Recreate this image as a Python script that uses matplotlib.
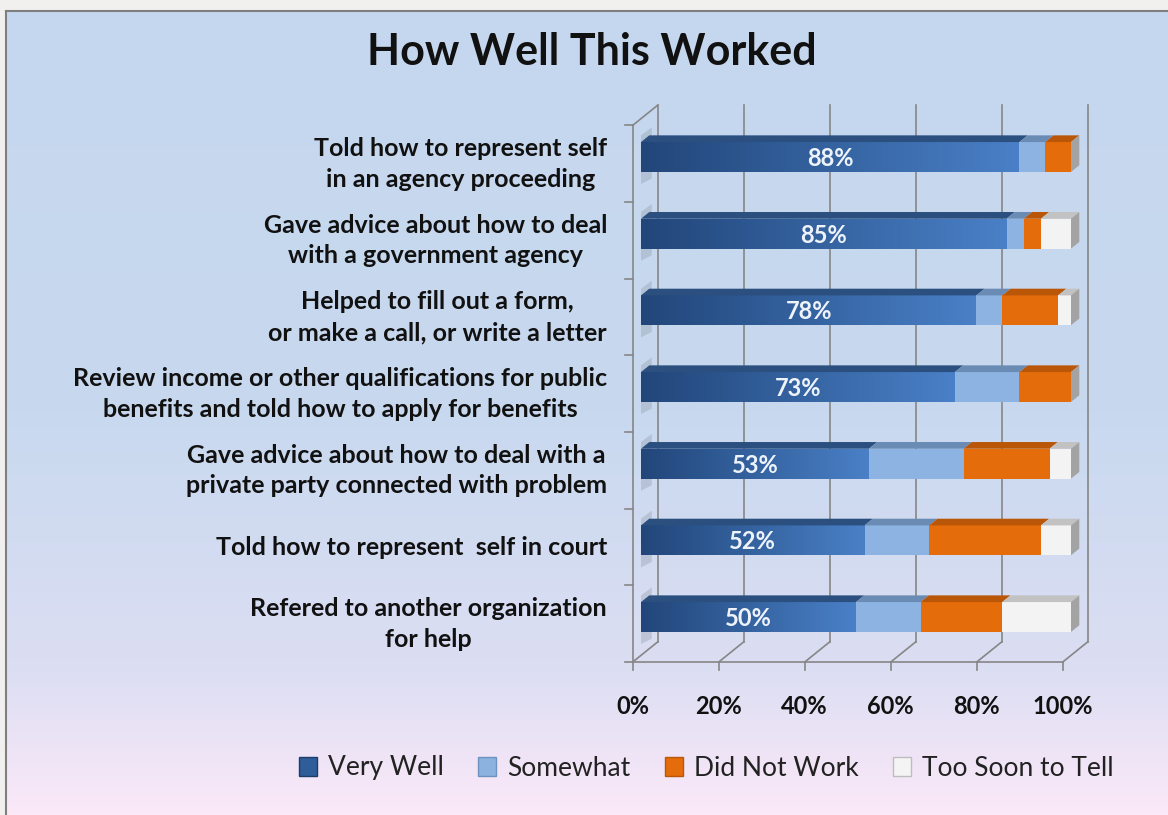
import numpy as np
import matplotlib
matplotlib.use("Agg")
import matplotlib.pyplot as plt
from matplotlib.patches import Polygon, Patch
from matplotlib.colors import LinearSegmentedColormap

categories = [
    "Told how to represent self\nin an agency proceeding",
    "Gave advice about how to deal\nwith a government agency",
    "Helped to fill out a form,\nor make a call, or write a letter",
    "Review income or other qualifications for public\nbenefits and told how to apply for benefits",
    "Gave advice about how to deal with a\nprivate party connected with problem",
    "Told how to represent  self in court",
    "Refered to another organization\nfor help",
]
very_well = [88, 85, 78, 73, 53, 52, 50]
somewhat = [6, 4, 6, 15, 22, 15, 15]
did_not_work = [6, 4, 13, 12, 20, 26, 19]
too_soon = [0, 7, 3, 0, 5, 7, 16]
series_names = ["Very Well", "Somewhat", "Did Not Work", "Too Soon to Tell"]
x_ticks = [0, 20, 40, 60, 80, 100]

FONT = "Lato"
plt.rcParams["font.family"] = [FONT, "DejaVu Sans"]

W, H = 1168, 815
fig = plt.figure(figsize=(W / 100, H / 100), dpi=100)
fig.patch.set_facecolor("#f2f0ef")

# background panel with vertical gradient
bg = fig.add_axes([6 / W, 0, 1 - 6 / W, 1 - 11 / H])
bg_cmap = LinearSegmentedColormap.from_list(
    "bg", [(0, "#c5d7ee"), (0.5, "#c8d9ef"), (0.82, "#dcdef3"), (1, "#fbe9f8")])
grad = np.linspace(0, 1, 256).reshape(-1, 1)
bg.imshow(grad, aspect="auto", cmap=bg_cmap, extent=[0, 1, 0, 1], origin="upper")
bg.set_xlim(0, 1)
bg.set_ylim(0, 1)
for name, s in bg.spines.items():
    s.set_visible(name in ("top", "left"))
    s.set_color("#7f7f7f")
    s.set_linewidth(1.5)
bg.set_xticks([])
bg.set_yticks([])

# main axes: 0% at px 641, 100% at px 1071, row centres 157 + 76.67*i
px_l, px_r, px_t, px_b = 560, 1120, 80, 720
ax = fig.add_axes([px_l / W, 1 - px_b / H, (px_r - px_l) / W, (px_b - px_t) / H])
sx = 4.3
sy = 76.67
ax.set_xlim((px_l - 641) / sx, (px_r - 641) / sx)
ax.set_ylim((px_b - 157) / sy, (px_t - 157) / sy)
ax.axis("off")
ax.patch.set_alpha(0)

dx = 8.3 / sx
dy = -6.7 / sy
bh = 0.39
n = len(categories)
grid_c = "#868686"
y_front = n - 0.5 - dy
y_back = y_front + 3 * dy
y_top_front = -0.5 - dy
y_top_back = y_top_front + 3 * dy

# back wall gridlines + floor
for v in x_ticks:
    ax.plot([v + 2 * dx, v + 2 * dx], [y_back, y_top_back], color=grid_c, lw=1.2, zorder=1)
    ax.plot([v - dx, v + 2 * dx], [y_front, y_back], color=grid_c, lw=1.2, zorder=1)
    ax.plot([v - dx, v - dx], [y_front, y_front + 0.1], color=grid_c, lw=1.2, zorder=1)
# left wall and front axis
ax.plot([-dx, -dx], [y_front, y_top_front], color=grid_c, lw=1.2, zorder=1)
ax.plot([-dx, 2 * dx], [y_top_front, y_top_back], color=grid_c, lw=1.2, zorder=1)
ax.plot([-dx, 100 - dx], [y_front, y_front], color=grid_c, lw=1.2, zorder=1)
for i in range(n + 1):
    yb = i - 0.5 - dy
    ax.plot([-dx - 1.9, -dx], [yb, yb], color=grid_c, lw=1.2, zorder=1)

face_cols = ["#3a6aa8", "#8db3e2", "#e46c0a", "#f3f3f3"]
top_cols = ["#2b4f7f", "#6a8bb4", "#b95608", "#c2c2c2"]
vw_cmap = LinearSegmentedColormap.from_list("vw", ["#22467a", "#3563a0", "#4a80c7"])

for i in range(n):
    vals = [very_well[i], somewhat[i], did_not_work[i], too_soon[i]]
    left = 0
    y0 = i - bh / 2
    y1 = i + bh / 2
    last_end = 0
    # faint shadow of the bar's left end on the side wall
    ax.add_patch(Polygon([(0, y0 + dy), (dx * 1.3, y0 + 2.2 * dy), (dx * 1.3, y1 - dy), (0, y1 - 1.8 * dy)],
                         closed=True, facecolor="#8e98a6", edgecolor="none", alpha=0.35, zorder=2))
    for k, v in enumerate(vals):
        if v <= 0:
            continue
        right = left + v
        if k == 0:
            rect = ax.barh(i, v, left=left, height=bh, color="none", zorder=3)[0]
            im = ax.imshow(np.linspace(0, 1, 256).reshape(1, -1), cmap=vw_cmap,
                           extent=[left, right, y1, y0], aspect="auto", zorder=3)
            im.set_clip_path(rect)
        else:
            ax.barh(i, v, left=left, height=bh, color=face_cols[k], zorder=3)
        top = Polygon([(left, y0), (right, y0), (right + dx, y0 + dy), (left + dx, y0 + dy)],
                      closed=True, facecolor=top_cols[k], edgecolor="none", zorder=3)
        ax.add_patch(top)
        left = right
        last_end = right
    side = Polygon([(last_end, y0), (last_end + dx, y0 + dy), (last_end + dx, y1 + dy), (last_end, y1)],
                   closed=True, facecolor="#a3a3a3", edgecolor="none", zorder=3)
    ax.add_patch(side)
    ax.text(very_well[i] / 2, i + 0.02, f"{very_well[i]}%", color="#eef3fa", fontsize=17,
            fontweight="bold", ha="center", va="center", zorder=5)
    ax.text((607 - 641) / sx, i + 0.09, categories[i], ha="right", va="center",
            multialignment="center", fontsize=18, fontweight="bold", color="#111111",
            linespacing=1.4, zorder=5)

for v in x_ticks:
    ax.text(v - dx, (706 - 157) / sy, f"{v}%", ha="center", va="center", fontsize=17,
            fontweight="bold", color="#111111")

fig.text(592 / W, 1 - 52 / H, "How Well This Worked", ha="center", va="center",
         fontsize=31, fontweight="bold", color="#111111")

handles = [
    Patch(facecolor="#2f5d9a", edgecolor="#1d3c66", label=series_names[0]),
    Patch(facecolor="#8cb2e0", edgecolor="#6f93c0", label=series_names[1]),
    Patch(facecolor="#e46c0a", edgecolor="#b95608", label=series_names[2]),
    Patch(facecolor="#f4f4f4", edgecolor="#bdbdbd", label=series_names[3]),
]
leg = fig.legend(handles=handles, loc="center", bbox_to_anchor=(706 / W, 1 - 768 / H),
                 ncol=4, frameon=False, fontsize=19, handlelength=0.7, handleheight=0.7,
                 handletextpad=0.4, columnspacing=1.3)
for t in leg.get_texts():
    t.set_color("#222222")

fig.savefig("out.png", dpi=100)
